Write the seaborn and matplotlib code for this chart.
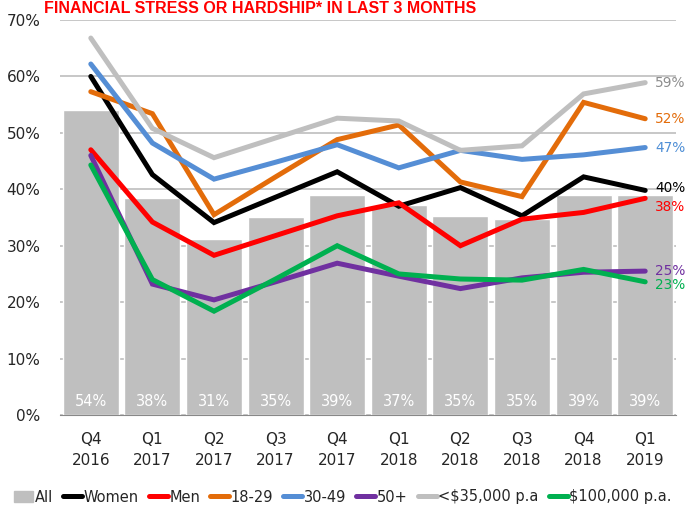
import pandas as pd
import numpy as np
import seaborn as sns
import matplotlib.pyplot as plt
from matplotlib.patches import Patch
from matplotlib.lines import Line2D

# data
quarters = ["Q4\n2016", "Q1\n2017", "Q2\n2017", "Q3\n2017", "Q4\n2017",
            "Q1\n2018", "Q2\n2018", "Q3\n2018", "Q4\n2018", "Q1\n2019"]
all_bars = [54.1, 38.4, 31.2, 35.1, 39.0, 37.2, 35.3, 34.8, 39.0, 39.0]
all_labels = ["54%", "38%", "31%", "35%", "39%", "37%", "35%", "35%", "39%", "39%"]

women = [60.0, 42.6, 34.1, 38.6, 43.1, 37.0, 40.3, 35.3, 42.2, 39.8]
men = [47.0, 34.2, 28.3, 31.8, 35.3, 37.6, 30.0, 34.7, 35.9, 38.4]
age_18_29 = [57.3, 53.4, 35.5, 42.2, 48.8, 51.4, 41.3, 38.7, 55.4, 52.5]
age_30_49 = [62.2, 48.2, 41.8, 44.8, 47.9, 43.8, 46.9, 45.3, 46.1, 47.4]
age_50plus = [46.0, 23.2, 20.4, 23.6, 26.9, 24.6, 22.4, 24.3, 25.3, 25.5]
under_35k = [66.8, 50.8, 45.6, 49.1, 52.6, 52.1, 46.9, 47.7, 56.9, 58.9]
over_100k = [44.3, 24.0, 18.4, 24.1, 30.0, 25.0, 24.1, 23.9, 25.8, 23.6]

series = [
    ("Women", women, "#000000", "40%", "#000000"),
    ("Men", men, "#FF0000", "38%", "#FF0000"),
    ("18-29", age_18_29, "#E36C0A", "52%", "#E36C0A"),
    ("30-49", age_30_49, "#558ED5", "47%", "#4F8FD6"),
    ("50+", age_50plus, "#7030A0", "25%", "#7030A0"),
    ("<$35,000 p.a", under_35k, "#BFBFBF", "59%", "#8C8C8C"),
    ("$100,000 p.a.", over_100k, "#00B050", "23%", "#00B050"),
]

sns.set_style("white")
plt.rcParams['font.family'] = ['DejaVu Sans']

fig = plt.figure(figsize=(6.86, 5.14), dpi=100)
ax = fig.add_axes([60 / 686, 1 - 415 / 514, 616 / 686, 395 / 514])

x = np.arange(len(quarters))
bars = pd.DataFrame({"x": x, "All": all_bars})
sns.barplot(data=bars, x="x", y="All", color="#BFBFBF", saturation=1,
            width=0.91, native_scale=True, ax=ax, zorder=2)

for name, vals, col, lab, lab_col in series:
    d = pd.DataFrame({"x": x, "v": vals})
    sns.lineplot(data=d, x="x", y="v", color=col, lw=3.6, ax=ax, zorder=3,
                 solid_capstyle="round", solid_joinstyle="miter")

# bar value labels
for i, lab in enumerate(all_labels):
    ax.text(i, 1.1, lab, color="white", ha="center", va="bottom", fontsize=10.5)

# end labels
end_y = {"40%": 40.2, "38%": 36.8, "52%": 52.5, "47%": 47.4,
         "25%": 25.6, "23%": 23.0, "59%": 58.9}
for name, vals, col, lab, lab_col in series:
    ax.text(9.16, end_y[lab], lab, color=lab_col, ha="left", va="center",
            fontsize=9.8, clip_on=False)

ax.set_xlim(-0.5, 9.5)
ax.set_ylim(0, 70)
ax.set_yticks(range(0, 71, 10))
ax.set_yticklabels([f"{v}%" for v in range(0, 71, 10)], fontsize=11)
ax.set_xticks(x)
ax.set_xticklabels(quarters, fontsize=11, linespacing=1.5)
ax.set_xticks(np.arange(-0.5, 10, 1), minor=True)
ax.tick_params(axis="x", which="major", length=0, pad=12)
ax.tick_params(axis="x", which="minor", length=5, color="#888888", direction="out")
ax.tick_params(axis="y", length=0, pad=14)
ax.set_xlabel("")
ax.set_ylabel("")
ax.yaxis.grid(True, color="#BDBDBD", lw=1.2, zorder=0)
ax.set_axisbelow(True)
for s in ["left", "right", "top"]:
    ax.spines[s].set_visible(False)
ax.spines["bottom"].set_color("#888888")

fig.text(260 / 686, 1 - 13 / 514, "FINANCIAL STRESS OR HARDSHIP* IN LAST 3 MONTHS",
         color="#FF0000", fontsize=11.5, fontweight="bold", ha="center", va="baseline",
         family=["Liberation Sans"])

handles = [Patch(color="#BFBFBF", label="All")]
for name, vals, col, lab, lab_col in series:
    handles.append(Line2D([], [], color=col, lw=3.6, solid_capstyle="round", label=name))
fig.legend(handles=handles, loc="center", bbox_to_anchor=(0.5, 1 - 497 / 514),
           ncol=8, frameon=False, fontsize=10.5, handlelength=1.3, handletextpad=0.1,
           columnspacing=0.7, borderpad=0)

fig.savefig("out.png", dpi=100)
